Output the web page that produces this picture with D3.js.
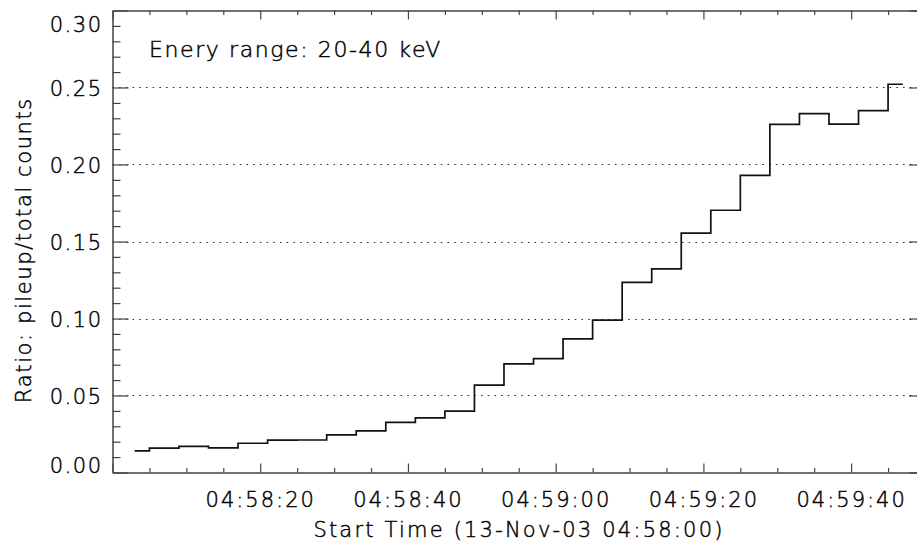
<!DOCTYPE html>
<html>
<head>
<meta charset="utf-8">
<script src="https://cdn.jsdelivr.net/npm/d3@7"></script>
<style>
  html, body { margin: 0; padding: 0; background: #fff; }
  svg { display: block; }
  text { font-family: "DejaVu Sans", sans-serif; font-weight: 200; fill: #000; stroke: #000; stroke-width: 0.45px; }
</style>
</head>
<body>
<svg id="chart" width="917" height="550"></svg>
<script>
// ---- data ----
const startTime = "2003-11-13T04:58:00Z";
// seconds after start time (bin centres)
const timeOffsets = [3, 7, 11, 15, 19, 23, 27, 31, 35, 39, 43, 47, 51, 55, 59, 63, 67, 71, 75, 79, 83, 87, 91, 95, 99, 103, 107];
const ratioValues = [0.0140, 0.0158, 0.0169, 0.0160, 0.0190, 0.0210, 0.0211, 0.0244, 0.0270, 0.0325, 0.0355, 0.0398,
                     0.0567, 0.0706, 0.0740, 0.0868, 0.0989, 0.1234, 0.1322, 0.1555, 0.1703, 0.1930, 0.2260, 0.2331,
                     0.2262, 0.2350, 0.2521];
const yTickValues = [0.00, 0.05, 0.10, 0.15, 0.20, 0.25, 0.30];
const gridValues = [0.05, 0.10, 0.15, 0.20, 0.25];
const xTickLabels = ["04:58:20", "04:58:40", "04:59:00", "04:59:20", "04:59:40"];
const yTitle = "Ratio: pileup/total counts";
const xTitle = "Start Time (13-Nov-03 04:58:00)";
const annotation = "Enery range: 20-40 keV";

// ---- layout ----
const W = 917, H = 550;
const L = 112.5, R = 925, T = 10.5, B = 472.5;
const t0 = new Date(startTime);
const tEnd = d3.utcSecond.offset(t0, 110);

const svg = d3.select("#chart");
const x = d3.scaleUtc().domain([t0, tEnd]).range([L, R]);
const y = d3.scaleLinear().domain([0, 0.30]).range([B, T]);

const fmt = d3.utcFormat("%H:%M:%S");
const majorX = d3.utcSecond.every(20).range(t0, d3.utcSecond.offset(tEnd, 1));
const minorX = d3.utcSecond.every(5).range(t0, d3.utcSecond.offset(tEnd, 1)).filter(d => d.getUTCSeconds() % 20 !== 0);
const minorY = d3.range(0, 31).map(i => i / 100).filter(v => Math.round(v * 100) % 5 !== 0);

const axisColor = "#444";
const FS = 21;

// grid lines (dotted)
svg.append("g").selectAll("line").data(gridValues).join("line")
  .attr("x1", L).attr("x2", W)
  .attr("y1", d => Math.round(y(d)) + 0.5).attr("y2", d => Math.round(y(d)) + 0.5)
  .attr("stroke", "#222").attr("stroke-width", 1).attr("stroke-dasharray", "1.5,5.2");

function styleAxis(g) {
  g.selectAll("path.domain").attr("stroke", axisColor).attr("stroke-width", 1);
  g.selectAll(".tick line").attr("stroke", axisColor).attr("stroke-width", 1.2);
  g.selectAll("text").attr("font-size", FS).attr("font-family", "DejaVu Sans, sans-serif")
    .attr("letter-spacing", 1.5).attr("fill", "#000");
}

// bottom axis (major)
const xLabelMap = new Map(xTickLabels.map(s => [s, s]));
const gB = svg.append("g").attr("transform", `translate(0,${B})`)
  .call(d3.axisBottom(x).tickValues(majorX).tickSize(-9).tickSizeOuter(0).tickPadding(20)
    .tickFormat(d => xLabelMap.has(fmt(d)) ? xLabelMap.get(fmt(d)) : ""));
styleAxis(gB);
gB.selectAll("text").attr("dy", "0.71em").attr("letter-spacing", 2);
// bottom minor
const gBm = svg.append("g").attr("transform", `translate(0,${B})`)
  .call(d3.axisBottom(x).tickValues(minorX).tickSize(-4.6).tickSizeOuter(0).tickFormat(""));
styleAxis(gBm);

// top axis
const gT = svg.append("g").attr("transform", `translate(0,${T})`)
  .call(d3.axisTop(x).tickValues(majorX).tickSize(-9).tickSizeOuter(0).tickFormat(""));
styleAxis(gT);
const gTm = svg.append("g").attr("transform", `translate(0,${T})`)
  .call(d3.axisTop(x).tickValues(minorX).tickSize(-4.6).tickSizeOuter(0).tickFormat(""));
styleAxis(gTm);

// left axis
const gL = svg.append("g").attr("transform", `translate(${L},0)`)
  .call(d3.axisLeft(y).tickValues(yTickValues).tickSize(-16).tickSizeOuter(0).tickPadding(10)
    .tickFormat(d3.format(".2f")));
styleAxis(gL);
gL.selectAll(".tick text")
  .attr("dy", d => d === 0.30 ? "0.98em" : (d === 0 ? "0em" : "0.36em"));
const gLm = svg.append("g").attr("transform", `translate(${L},0)`)
  .call(d3.axisLeft(y).tickValues(minorY).tickSize(-8).tickSizeOuter(0).tickFormat(""));
styleAxis(gLm);

// right axis (mostly outside view)
const gR = svg.append("g").attr("transform", `translate(${R},0)`)
  .call(d3.axisRight(y).tickValues(yTickValues).tickSize(-16).tickSizeOuter(0).tickFormat(""));
styleAxis(gR);
const gRm = svg.append("g").attr("transform", `translate(${R},0)`)
  .call(d3.axisRight(y).tickValues(minorY).tickSize(-8).tickSizeOuter(0).tickFormat(""));
styleAxis(gRm);

// step line (histogram style)
const pts = timeOffsets.map((s, i) => [d3.utcSecond.offset(t0, s), ratioValues[i]]);
svg.append("path").datum(pts)
  .attr("fill", "none").attr("stroke", "#111").attr("stroke-width", 1.7)
  .attr("d", d3.line().x(d => x(d[0])).y(d => y(d[1])).curve(d3.curveStep));

// titles
svg.append("text").attr("x", 519).attr("y", 537)
  .attr("text-anchor", "middle").attr("font-size", FS).attr("letter-spacing", 2.2)
  .text(xTitle);
svg.append("text").attr("transform", `translate(31,${250}) rotate(-90)`)
  .attr("text-anchor", "middle").attr("font-size", FS).attr("letter-spacing", 1.6)
  .text(yTitle);
svg.append("text").attr("x", 149).attr("y", 57)
  .attr("font-size", 22).attr("letter-spacing", 1.6)
  .text(annotation);
</script>
</body>
</html>
